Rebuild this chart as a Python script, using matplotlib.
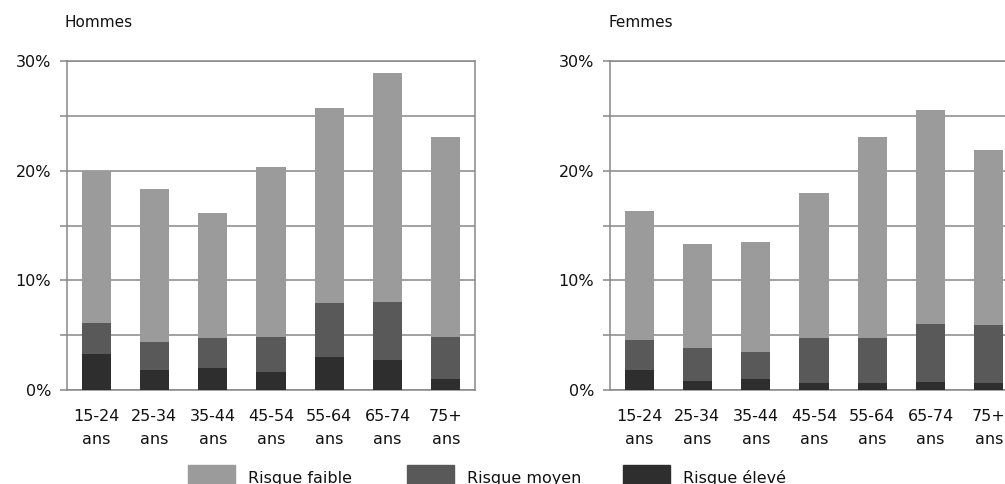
import matplotlib.pyplot as plt
from matplotlib.patches import Rectangle
import numpy as np

# age groups (two-line tick labels)
age_groups = ['15-24\nans', '25-34\nans', '35-44\nans', '45-54\nans',
              '55-64\nans', '65-74\nans', '75+\nans']

# values in %
hommes_eleve = [3.3, 1.8, 2.0, 1.6, 3.0, 2.7, 1.0]
hommes_moyen = [2.8, 2.6, 2.7, 3.2, 4.9, 5.3, 3.8]
hommes_faible = [13.9, 13.9, 11.4, 15.5, 17.8, 20.9, 18.3]

femmes_eleve = [1.8, 0.8, 1.0, 0.6, 0.6, 0.7, 0.6]
femmes_moyen = [2.8, 3.0, 2.5, 4.1, 4.1, 5.3, 5.3]
femmes_faible = [11.7, 9.5, 10.0, 13.3, 18.4, 19.5, 16.0]

series_labels = ['Risque faible', 'Risque moyen', 'Risque élevé']
series_colors = ['#9b9b9b', '#595959', '#2e2e2e']

grey = '#888888'
plt.rcParams['font.family'] = 'DejaVu Sans'

fig = plt.figure(figsize=(10.05, 4.84), dpi=100)
W, H = 1005.0, 484.0


def draw_panel(ax, eleve, moyen, faible, title):
    x = np.arange(len(age_groups))
    eleve = np.array(eleve)
    moyen = np.array(moyen)
    faible = np.array(faible)
    ax.bar(x, eleve, width=0.5, color=series_colors[2], zorder=3)
    ax.bar(x, moyen, width=0.5, bottom=eleve, color=series_colors[1], zorder=3)
    ax.bar(x, faible, width=0.5, bottom=eleve + moyen, color=series_colors[0], zorder=3)
    ax.set_xlim(-0.5, 6.5)
    ax.set_ylim(0, 30)
    ax.set_xticks(x)
    ax.set_xticklabels(age_groups, fontsize=11.5, linespacing=1.65, color='#111111')
    ax.tick_params(axis='x', length=0, pad=13.5)
    ax.set_yticks([0, 10, 20, 30])
    ax.set_yticklabels(['0%', '10%', '20%', '30%'], fontsize=11.5, color='#111111')
    ax.set_yticks([5, 15, 25], minor=True)
    ax.tick_params(axis='y', which='both', length=5, width=1.1, color=grey, pad=6.5)
    ax.yaxis.grid(True, which='both', color=grey, linewidth=1.1, zorder=0)
    for s in ax.spines.values():
        s.set_color(grey)
        s.set_linewidth(1.1)
    ax.set_axisbelow(True)
    pos = ax.get_position()
    fig.text(pos.x0 - 2 / W, 1 - 27 / H, title, fontsize=11, color='#111111',
             ha='left', va='baseline')


ax1 = fig.add_axes([67 / W, 1 - 390 / H, 408 / W, 329 / H])
ax2 = fig.add_axes([610 / W, 1 - 390 / H, 408 / W, 329 / H])
draw_panel(ax1, hommes_eleve, hommes_moyen, hommes_faible, 'Hommes')
draw_panel(ax2, femmes_eleve, femmes_moyen, femmes_faible, 'Femmes')

# legend along the bottom edge
legend_x = [188, 407, 623]
for lx, lab, col in zip(legend_x, series_labels, series_colors):
    fig.patches.append(Rectangle((lx / W, 1 - 485 / H), 47 / W, 20 / H,
                                 transform=fig.transFigure, color=col))
    fig.text((lx + 60) / W, 1 - 483 / H, lab, fontsize=11.5, color='#111111',
             ha='left', va='baseline')

fig.savefig('out.png', dpi=100)
